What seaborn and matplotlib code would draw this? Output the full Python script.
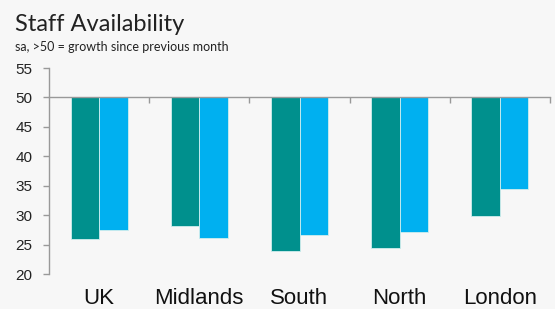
import matplotlib
matplotlib.use("Agg")
import matplotlib.pyplot as plt
import seaborn as sns
import pandas as pd

categories = ["UK", "Midlands", "South", "North", "London"]
series_names = ["Previous", "Latest"]
series_a = [25.9, 28.1, 23.9, 24.5, 29.8]
series_b = [27.5, 26.1, 26.7, 27.1, 34.4]
y_ticks = [20, 25, 30, 35, 40, 45, 50, 55]
baseline = 50

rows = []
for c, a, b in zip(categories, series_a, series_b):
    rows.append({"cat": c, "series": series_names[0], "value": a})
    rows.append({"cat": c, "series": series_names[1], "value": b})
df = pd.DataFrame(rows)
df["delta"] = df["value"] - baseline

sns.set_theme(style="white")
bg = "#f7f7f7"
fig = plt.figure(figsize=(5.55, 3.09), dpi=100, facecolor=bg)
ax = fig.add_axes([49/555, 1 - 274/309, (550-49)/555, (274-68)/309])
ax.set_facecolor(bg)

sns.barplot(data=df, x="cat", y="delta", hue="series", order=categories,
            hue_order=series_names, palette=["#00908D", "#00B0F0"],
            bottom=baseline, width=0.57, errorbar=None, legend=False, ax=ax,
            linewidth=0.6, edgecolor="#cfeeee", saturation=1)

ax.set_ylim(20, 55)
ax.set_xlim(-0.5, 4.5)
ax.set_yticks(y_ticks)
ax.set_yticklabels([str(t) for t in y_ticks], fontsize=11, family="Liberation Sans", color="#222222")
ax.set_xlabel("")
ax.set_ylabel("")

axis_col = "#999999"
for s in ["top", "right"]:
    ax.spines[s].set_visible(False)
ax.spines["left"].set_color(axis_col)
ax.spines["bottom"].set_color(axis_col)
ax.spines["left"].set_linewidth(1)
ax.spines["bottom"].set_linewidth(1)
ax.spines["bottom"].set_position(("data", baseline))
ax.set_xticks([i + 0.5 for i in range(len(categories))])
ax.set_xticklabels([])
ax.tick_params(axis="x", direction="out", length=4, width=1, color=axis_col, bottom=True)
ax.tick_params(axis="y", direction="out", length=4, width=1, color=axis_col, left=True, pad=8)

sec = ax.secondary_xaxis(0)
sec.set_xticks(range(len(categories)))
sec.set_xticklabels(categories, fontsize=16, family="Liberation Sans", color="#111111")
sec.tick_params(length=0, pad=10)
sec.spines["bottom"].set_visible(False)

fig.text(15/555, 1 - 31/309, "Staff Availability", fontsize=17, family="Lato", color="#222222")
fig.text(15/555, 1 - 51/309, "sa, >50 = growth since previous month", fontsize=9, family="Lato", color="#222222")

fig.savefig("out.png", dpi=100, facecolor=bg)
